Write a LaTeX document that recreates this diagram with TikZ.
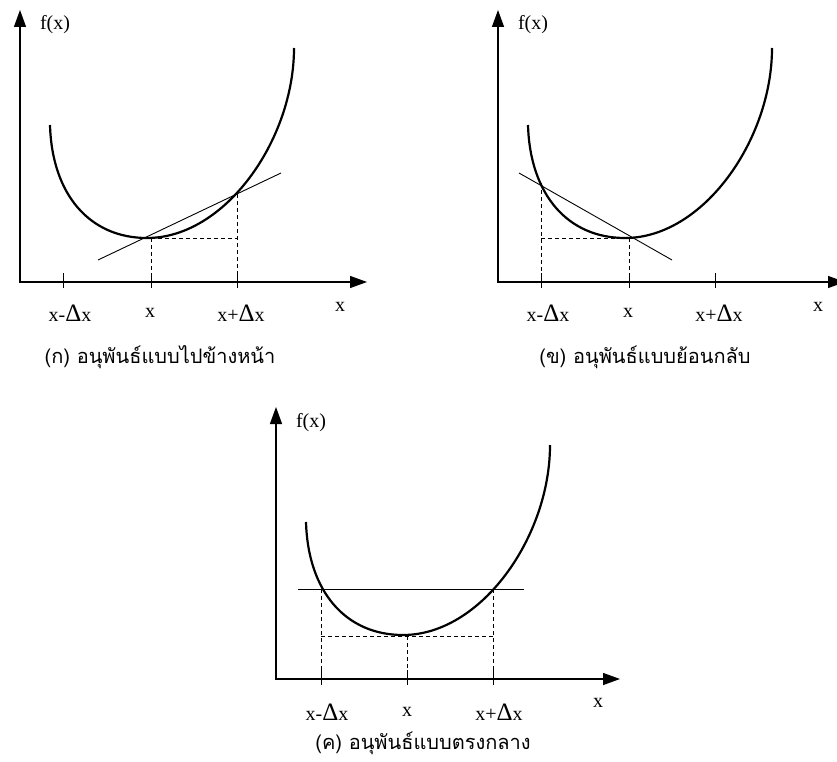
\documentclass[tikz,border=0pt]{standalone}
\usepackage{fontspec}
\setmainfont{Liberation Serif}
\newfontfamily\thaifont[Script=Thai]{Loma}
\usetikzlibrary{arrows.meta}
\newcommand\dx{{\fontsize{25}{25}\selectfont Δ}}
\tikzset{
  axis/.style={line width=1.3pt,{Triangle[length=17pt,width=12pt]}-{Triangle[length=17pt,width=12pt]}},
  tickline/.style={line width=1pt},
  curvestyle/.style={line width=2.2pt},
  thin line/.style={line width=0.9pt},
  dashline/.style={line width=0.9pt,dash pattern=on 4pt off 3pt},
  lbl/.style={font=\fontsize{20}{22}\selectfont,inner sep=0pt},
  captext/.style={font=\thaifont\fontsize{20}{24}\selectfont,inner sep=0pt},
  ucurve/.pic={\draw[curvestyle] (50,125) .. controls (52,195) and (90,238) .. (147,238) .. controls (225,238) and (294,140) .. (294,48);}
}
\begin{document}
\begin{tikzpicture}[x=1pt,y=-1pt]
\useasboundingbox (0,0) rectangle (837,762);
% ---------- panel (a)
\begin{scope}
  \draw[axis] (20,10) -- (20,282) -- (367,282);
  \foreach \t in {63,151,237} \draw[tickline] (\t,273) -- (\t,288);
  \pic {ucurve};
  \draw[thin line] (98,260) -- (281,173);
  \draw[dashline] (151,238) -- (237,238);
  \draw[dashline] (151,238) -- (151,282);
  \draw[dashline] (237,194) -- (237,282);
  \node[lbl] (afx) at (55,25) {f(x)};
  \node[lbl] (am) at (70,313) {x-\dx x};
  \node[lbl] (ax) at (150,313) {x};
  \node[lbl] (ap) at (241,313) {x+\dx x};
  \node[lbl] (axx) at (340,307) {x};
  \node[captext] (acap) at (160,357) {(ก) อนุพันธ์แบบไปข้างหน้า};
\end{scope}
% ---------- panel (b)
\begin{scope}[shift={(478,0)}]
  \draw[axis] (20,10) -- (20,282) -- (367,282);
  \foreach \t in {63,151,237} \draw[tickline] (\t,273) -- (\t,288);
  \pic {ucurve};
  \draw[thin line] (41,173) -- (194,260);
  \draw[dashline] (63,238) -- (151,238);
  \draw[dashline] (63,183) -- (63,282);
  \draw[dashline] (151,238) -- (151,282);
  \node[lbl] (bfx) at (55,25) {f(x)};
  \node[lbl] (bm) at (70,313) {x-\dx x};
  \node[lbl] (bx) at (150,313) {x};
  \node[lbl] (bp) at (241,313) {x+\dx x};
  \node[lbl] (bxx) at (340,307) {x};
  \node[captext] (bcap) at (167,357) {(ข) อนุพันธ์แบบย้อนกลับ};
\end{scope}
% ---------- panel (c)
\begin{scope}[shift={(256,397)}]
  \draw[axis] (20,10) -- (20,282) -- (364,282);
  \foreach \t in {65,151,237} \draw[tickline] (\t,273) -- (\t,288);
  \pic {ucurve};
  \draw[thin line] (42,192) -- (268,192);
  \draw[dashline] (65,239) -- (237,239);
  \draw[dashline] (65,192) -- (65,282);
  \draw[dashline] (151,239) -- (151,282);
  \draw[dashline] (237,192) -- (237,282);
  \node[lbl] (cfx) at (55,26) {f(x)};
  \node[lbl] (cm) at (71,315) {x-\dx x};
  \node[lbl] (cx) at (151,315) {x};
  \node[lbl] (cp) at (243,315) {x+\dx x};
  \node[lbl] (cxx) at (342,306) {x};
  \node[captext] (ccap) at (167,346) {(ค) อนุพันธ์แบบตรงกลาง};
\end{scope}
\end{tikzpicture}
\end{document}
